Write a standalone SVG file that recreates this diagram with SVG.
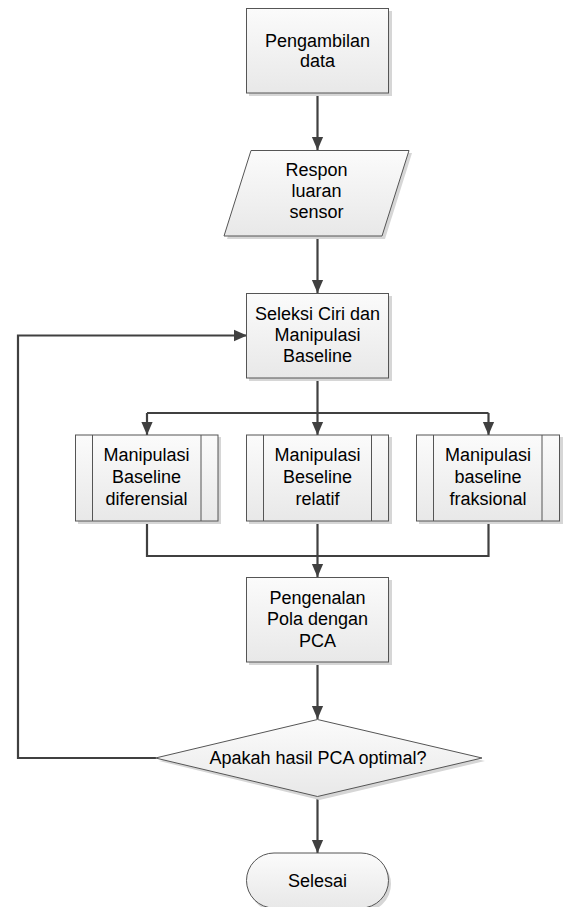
<svg xmlns="http://www.w3.org/2000/svg" width="563" height="907" viewBox="0 0 563 907">
<defs>
<linearGradient id="g" x1="0" y1="0" x2="0" y2="1">
<stop offset="0" stop-color="#fbfbfb"/>
<stop offset="1" stop-color="#e8e8e8"/>
</linearGradient>
<marker id="ah" markerWidth="13" markerHeight="15" refX="15" refY="6.5" viewBox="0 0 15 13" orient="auto" markerUnits="userSpaceOnUse">
<path d="M0,0 L15,6.5 L0,13 Z" fill="#404040"/>
</marker>
<style>
.sh{fill:#d6d6d6}
.n{fill:url(#g);stroke:#555;stroke-width:1}
.il{stroke:#555;stroke-width:1;fill:none}
.t{font-family:"Liberation Sans",Arial,sans-serif;font-size:18px;fill:#000;text-anchor:middle}
.c{fill:none;stroke:#404040;stroke-width:2.2}
.ca{fill:none;stroke:#404040;stroke-width:2.2;marker-end:url(#ah)}
</style>
</defs>
<rect width="563" height="907" fill="#fff"/>

<g id="connectors">
<line class="ca" x1="317.5" y1="93" x2="317.5" y2="150"/>
<line class="ca" x1="317.5" y1="236" x2="317.5" y2="293"/>
<polyline class="c" points="317.5,378 317.5,413"/>
<polyline class="c" points="147,413 488.5,413"/>
<line class="ca" x1="147" y1="413" x2="147" y2="435"/>
<line class="ca" x1="317.5" y1="413" x2="317.5" y2="435"/>
<line class="ca" x1="488.5" y1="413" x2="488.5" y2="435"/>
<polyline class="c" points="147,521 147,556 488.5,556 488.5,521"/>
<line class="c" x1="317.5" y1="521" x2="317.5" y2="556"/>
<line class="ca" x1="317.5" y1="556" x2="317.5" y2="577"/>
<line class="ca" x1="317.5" y1="662" x2="317.5" y2="719"/>
<line class="ca" x1="317.5" y1="797" x2="317.5" y2="853"/>
<polyline class="ca" points="156,758 18,758 18,335.5 247,335.5"/>
</g>

<g id="n1">
<rect class="sh" x="249" y="11" width="143" height="85"/>
<rect class="n" x="246.5" y="8.5" width="142" height="84.5"/>
<text class="t" x="317.5" y="47">Pengambilan</text>
<text class="t" x="317.5" y="67">data</text>
</g>

<g id="n2">
<polygon class="sh" points="254,153 412,153 385,239 227,239"/>
<polygon class="n" points="251,150.5 409,150.5 382,236 224,236"/>
<text class="t" x="316.5" y="176">Respon</text>
<text class="t" x="316.5" y="197">luaran</text>
<text class="t" x="316.5" y="218">sensor</text>
</g>

<g id="n3">
<rect class="sh" x="249" y="296" width="143" height="85"/>
<rect class="n" x="246.5" y="293.5" width="142" height="84.5"/>
<text class="t" x="317.5" y="320">Seleksi Ciri dan</text>
<text class="t" x="317.5" y="341">Manipulasi</text>
<text class="t" x="317.5" y="362">Baseline</text>
</g>

<g id="n4">
<rect class="sh" x="78" y="437" width="143" height="87"/>
<rect class="n" x="75.5" y="435" width="142.5" height="86"/>
<line class="il" x1="92.5" y1="435" x2="92.5" y2="521"/>
<line class="il" x1="201" y1="435" x2="201" y2="521"/>
<text class="t" x="146.5" y="461">Manipulasi</text>
<text class="t" x="146.5" y="483">Baseline</text>
<text class="t" x="146.5" y="505">diferensial</text>
</g>

<g id="n5">
<rect class="sh" x="249" y="437" width="143" height="87"/>
<rect class="n" x="246.5" y="435" width="142" height="86"/>
<line class="il" x1="263.5" y1="435" x2="263.5" y2="521"/>
<line class="il" x1="371.5" y1="435" x2="371.5" y2="521"/>
<text class="t" x="317.5" y="461">Manipulasi</text>
<text class="t" x="317.5" y="483">Beseline</text>
<text class="t" x="317.5" y="505">relatif</text>
</g>

<g id="n6">
<rect class="sh" x="419" y="437" width="144" height="87"/>
<rect class="n" x="416.5" y="435" width="143" height="86"/>
<line class="il" x1="433.5" y1="435" x2="433.5" y2="521"/>
<line class="il" x1="542" y1="435" x2="542" y2="521"/>
<text class="t" x="488" y="461">Manipulasi</text>
<text class="t" x="488" y="483">baseline</text>
<text class="t" x="488" y="505">fraksional</text>
</g>

<g id="n7">
<rect class="sh" x="249" y="580" width="143" height="85"/>
<rect class="n" x="246.5" y="577.5" width="142" height="84.5"/>
<text class="t" x="317.5" y="604">Pengenalan</text>
<text class="t" x="317.5" y="625">Pola dengan</text>
<text class="t" x="317.5" y="647">PCA</text>
</g>

<g id="n8">
<polygon class="sh" points="319.5,722 485,761 319.5,800 159,761"/>
<polygon class="n" points="317.5,719.5 482,758 317.5,796.5 155.5,758"/>
<text class="t" x="318" y="764">Apakah hasil PCA optimal?</text>
</g>

<g id="n9">
<rect class="sh" x="249" y="856" width="142" height="56" rx="28"/>
<rect class="n" x="246.5" y="853" width="142" height="55" rx="27.5"/>
<text class="t" x="317.5" y="887">Selesai</text>
</g>
</svg>
